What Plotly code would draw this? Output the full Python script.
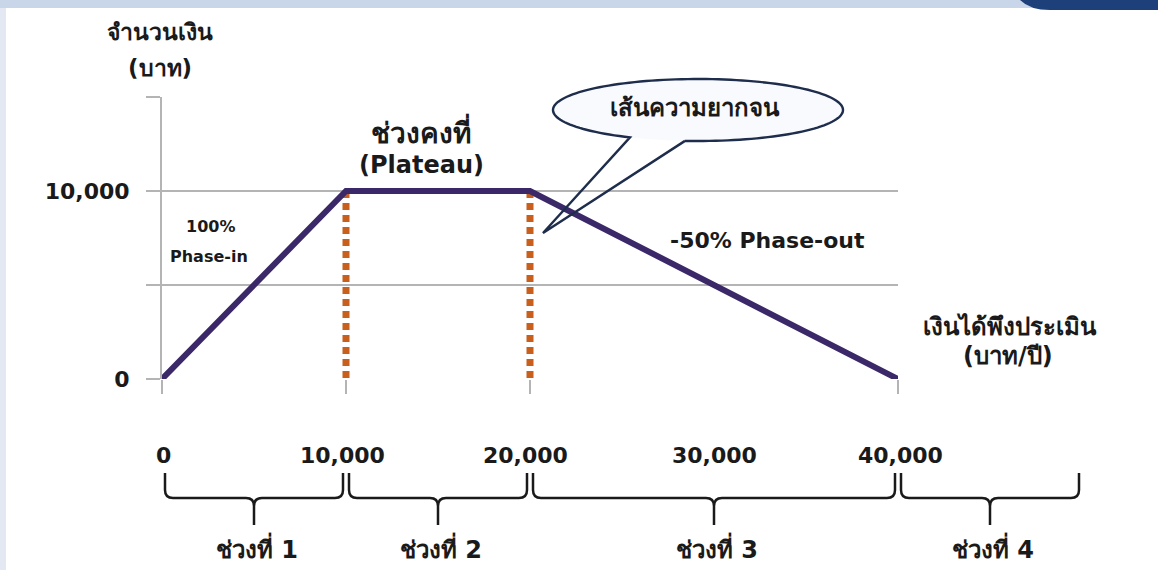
import numpy as np
import plotly.graph_objects as go

# ---- data ----
income = [0, 10000, 20000, 40000]
benefit = [0, 10000, 10000, 0]
plateau_edges = [10000, 20000]
x_tick_vals = [0, 10000, 20000, 30000, 40000]
x_tick_text = ["0", "10,000", "20,000", "30,000", "40,000"]
y_tick_vals = [0, 5000, 10000, 15000]
y_tick_text = ["0", "", "10,000", ""]
segment_edges = [0, 10000, 20000, 40000, 50000]
segment_labels = ["ช่วงที่ 1", "ช่วงที่ 2", "ช่วงที่ 3", "ช่วงที่ 4"]

W, H = 1158, 570
L, R, T, B = 162, 898, 97, 379
XMAX, YMAX = 40000, 15000
FONT = "'DejaVu Sans', Tahoma, sans-serif"
DARK = "#1a1a1a"
PURPLE = "#3b2868"
ORANGE = "#c85f1c"
GRID = "#b4b4b4"


def pxx(p):
    return (p - L) / (R - L)


def pxy(p):
    return (B - p) / (B - T)


def dx(v):
    return L + (v / XMAX) * (R - L)


fig = go.Figure()

for xe in plateau_edges:
    yv = benefit[income.index(xe)]
    fig.add_trace(go.Scatter(x=[xe, xe], y=[yv, 0], mode="lines",
                             line=dict(color=ORANGE, width=7, dash="7px,5px"),
                             hoverinfo="skip", showlegend=False))

fig.add_trace(go.Scatter(x=income, y=benefit, mode="lines",
                         line=dict(color=PURPLE, width=6),
                         hoverinfo="skip", showlegend=False))

shapes = []
# background decorations
shapes.append(dict(type="rect", xref="paper", yref="paper", x0=pxx(0), x1=pxx(W),
                   y0=pxy(8), y1=pxy(0), fillcolor="#c9d5e8", line=dict(width=0), layer="below"))
shapes.append(dict(type="path", xref="paper", yref="paper",
                   path=f"M {pxx(1020)},{pxy(0)} Q {pxx(1030)},{pxy(10)} {pxx(1050)},{pxy(10)} "
                        f"L {pxx(W)},{pxy(10)} L {pxx(W)},{pxy(0)} Z",
                   fillcolor="#1d3f7a", line=dict(width=0), layer="below"))
shapes.append(dict(type="rect", xref="paper", yref="paper", x0=pxx(0), x1=pxx(6),
                   y0=pxy(H), y1=pxy(8), fillcolor="#e4e8f3", line=dict(width=0), layer="below"))

# braces
ytop, yh, ytip, r = 473, 498, 525, 8
for i in range(len(segment_labels)):
    x0 = dx(segment_edges[i]) + 3
    x1 = dx(segment_edges[i + 1]) - 3
    xm = (x0 + x1) / 2
    P = lambda a, b: f"{pxx(a)},{pxy(b)}"
    path = (f"M {P(x0, ytop)} L {P(x0, yh - r)} Q {P(x0, yh)} {P(x0 + r, yh)} "
            f"L {P(xm - r, yh)} Q {P(xm, yh)} {P(xm, yh + r)} L {P(xm, ytip)} "
            f"M {P(xm, yh + r)} Q {P(xm, yh)} {P(xm + r, yh)} "
            f"L {P(x1 - r, yh)} Q {P(x1, yh)} {P(x1, yh - r)} L {P(x1, ytop)}")
    shapes.append(dict(type="path", xref="paper", yref="paper", path=path,
                       line=dict(color=DARK, width=2.5)))

# callout bubble
cx, cy, rx, ry = 698, 110, 145, 31
tip = (543, 233)
t1 = np.arccos((685 - cx) / rx)
t2 = np.arccos((630 - cx) / rx)
ts = np.linspace(0, 2 * np.pi, 120)
ell = " L ".join(f"{pxx(cx + rx*np.cos(t))},{pxy(cy + ry*np.sin(t))}" for t in ts)
shapes.append(dict(type="path", xref="paper", yref="paper", path="M " + ell + " Z",
                   fillcolor="#f8fafd", line=dict(width=0), layer="above"))
ts2 = np.linspace(t1, t2 - 2 * np.pi, 140)
outline = " L ".join(f"{pxx(cx + rx*np.cos(t))},{pxy(cy + ry*np.sin(t))}" for t in ts2)
outline = ("M " + outline + f" L {pxx(tip[0])},{pxy(tip[1])} "
           f"L {pxx(cx + rx*np.cos(t1))},{pxy(cy + ry*np.sin(t1))}")
shapes.append(dict(type="path", xref="paper", yref="paper", path=outline,
                   line=dict(color="#1f2d4d", width=2.4), layer="above"))

ann = []


def txt(x, y, s, size=18, xanchor="center"):
    ann.append(dict(xref="paper", yref="paper", x=pxx(x), y=pxy(y), text=f"<b>{s}</b>",
                    showarrow=False, xanchor=xanchor, yanchor="middle",
                    font=dict(family=FONT, size=size, color=DARK)))


txt(160, 32, "จำนวนเงิน", 23)
txt(160, 68, "(บาท)", 23)
txt(421, 131, "ช่วงคงที่", 28)
txt(421, 165, "(Plateau)", 24)
txt(210, 226, "100%", 16)
txt(209, 256, "Phase-in", 16)
txt(767, 240, "-50% Phase-out", 22)
txt(1010, 326, "เงินได้พึงประเมิน", 24)
txt(1008, 356, "(บาท/ปี)", 24)
txt(695, 108, "เส้นความยากจน", 24)

x_label_shift = [1, -4, -5, 0, 2]
for v, s, sh in zip(x_tick_vals, x_tick_text, x_label_shift):
    ann.append(dict(xref="x", yref="paper", x=v, y=pxy(455), text=f"<b>{s}</b>",
                    showarrow=False, xanchor="center", yanchor="middle", xshift=sh,
                    font=dict(family=FONT, size=22, color=DARK)))
for i, s in enumerate(segment_labels):
    xm = (dx(segment_edges[i]) + dx(segment_edges[i + 1])) / 2
    txt(xm + 3, 548, s, 24)

fig.update_layout(
    width=W, height=H,
    margin=dict(l=L, r=W - R, t=T, b=H - B, autoexpand=False),
    plot_bgcolor="white", paper_bgcolor="white",
    shapes=shapes, annotations=ann, showlegend=False,
    xaxis=dict(range=[0, XMAX], showgrid=False, zeroline=False, showline=False,
               tickvals=[0, 10000, 20000, 40000], ticks="outside", ticklen=14,
               tickwidth=2, tickcolor=GRID, showticklabels=False, fixedrange=True),
    yaxis=dict(range=[0, YMAX], tickvals=y_tick_vals,
               ticktext=[f"<b>{t}</b>" if t else "" for t in y_tick_text],
               showgrid=True, gridcolor=GRID, gridwidth=2, zeroline=False,
               showline=True, linecolor=GRID, linewidth=2,
               ticks="outside", ticklen=14, tickwidth=2, tickcolor=GRID,
               tickfont=dict(family=FONT, size=22, color=DARK),
               ticklabelstandoff=12, fixedrange=True),
)

fig.write_html("out.html", config={"displayModeBar": False},
               post_script="document.body.style.margin='0px';")
